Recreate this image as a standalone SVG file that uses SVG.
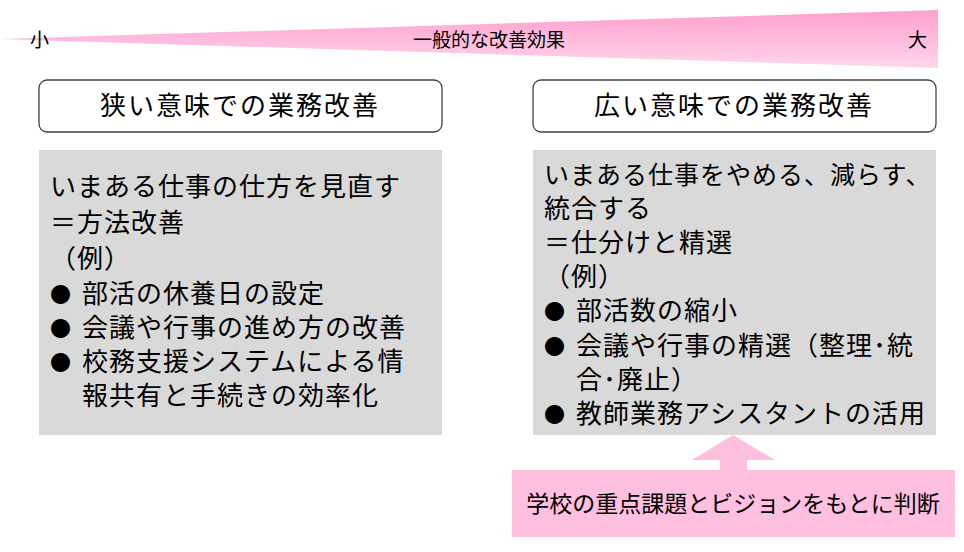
<svg xmlns="http://www.w3.org/2000/svg" width="964" height="552" viewBox="0 0 964 552">
<style>
text{font-family:"Noto Sans CJK JP","Liberation Sans",sans-serif;fill:#000}
.t{font-size:26px;letter-spacing:1px}
.b{font-size:21px}
.h{font-size:26px;letter-spacing:2px;text-anchor:middle}
.s{font-size:19px}
.title{fill:#fff;stroke:#404040;stroke-width:1.3}
.gray{fill:#D9D9D9}
</style>
<defs>
<linearGradient id="g" x1="0" y1="0" x2="0" y2="1">
<stop offset="0" stop-color="#FF9FCF"/><stop offset="1" stop-color="#FFD6EA"/>
</linearGradient>
</defs>
<g id="scale">
<polygon points="0,39 938,10 938,68" fill="url(#g)"/>
<text class="s" x="30" y="47">小</text>
<text class="s" x="489" y="47" text-anchor="middle">一般的な改善効果</text>
<text class="s" x="908" y="47">大</text>
</g>
<g id="narrow">
<rect class="title" x="39" y="80" width="403" height="52" rx="8"/>
<text class="h" x="240" y="115">狭い意味での業務改善</text>
<rect class="gray" x="39" y="150" width="403" height="285"/>
<text class="t" x="50" y="196">いまある仕事の仕方を見直す</text>
<text class="t" x="50" y="232">＝方法改善</text>
<text class="t" x="50" y="268">（例）</text>
<text class="b" x="50" y="302">●</text><text class="t" x="82" y="303">部活の休養日の設定</text>
<text class="b" x="50" y="336">●</text><text class="t" x="82" y="337">会議や行事の進め方の改善</text>
<text class="b" x="50" y="370">●</text><text class="t" x="82" y="371">校務支援システムによる情</text>
<text class="t" x="82" y="405">報共有と手続きの効率化</text>
</g>
<g id="broad">
<rect class="title" x="533" y="80" width="403" height="52" rx="8"/>
<text class="h" x="734" y="115">広い意味での業務改善</text>
<rect class="gray" x="533" y="150" width="403" height="285"/>
<text class="t" x="544" y="184" letter-spacing="0" style="font-size:25px">いまある仕事をやめる、減らす、</text>
<text class="t" x="544" y="218">統合する</text>
<text class="t" x="544" y="252">＝仕分けと精選</text>
<text class="t" x="544" y="286">（例）</text>
<text class="b" x="544" y="319">●</text><text class="t" x="576" y="320">部活数の縮小</text>
<text class="b" x="544" y="354">●</text><text class="t" x="576" y="355" letter-spacing="0">会議や行事の精選（整理･統</text>
<text class="t" x="576" y="389">合･廃止）</text>
<text class="b" x="544" y="422">●</text><text class="t" x="576" y="423" letter-spacing="0">教師業務アシスタントの活用</text>
</g>
<g id="connectors">
<polygon points="733,435 775,460 747,460 747,471 720,471 720,460 692,460" fill="#FFBFDF"/>
</g>
<g id="basis">
<rect x="512" y="470" width="443" height="67" fill="#FFBFDF"/>
<text x="733" y="512" text-anchor="middle" style="font-size:23px">学校の重点課題とビジョンをもとに判断</text>
</g>
</svg>
